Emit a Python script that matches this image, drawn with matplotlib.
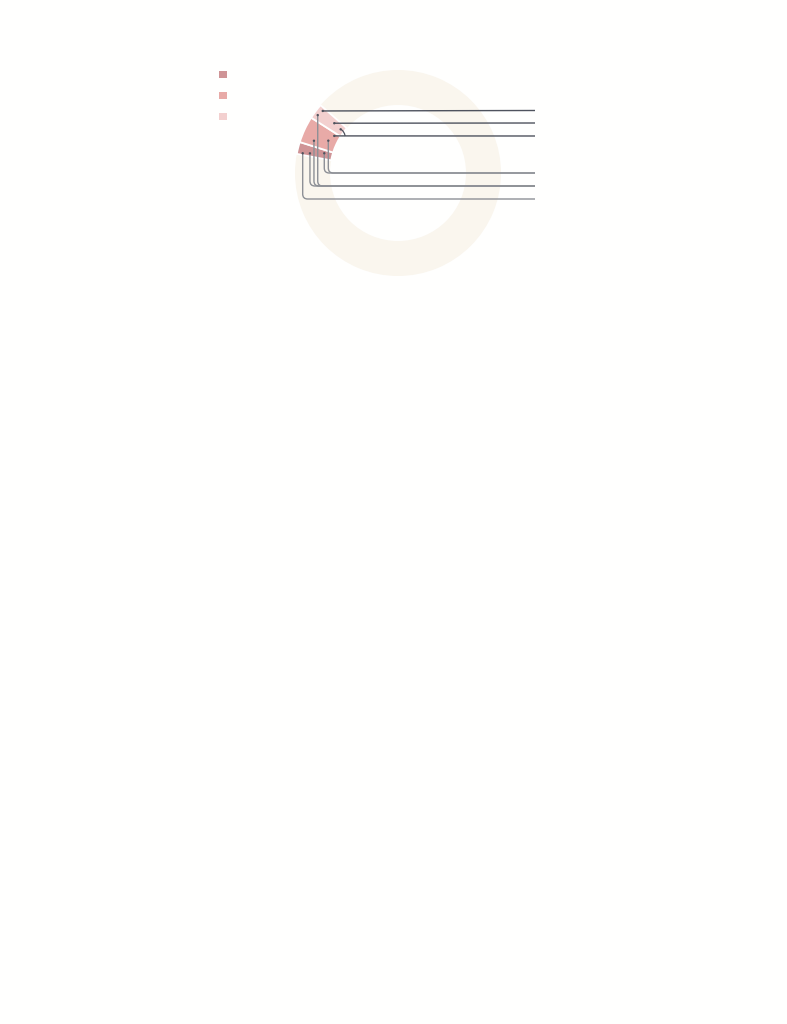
import matplotlib
matplotlib.use("Agg")
import matplotlib.pyplot as plt
from matplotlib.patches import Wedge, Rectangle, Circle
from matplotlib.path import Path
from matplotlib.patches import PathPatch
import numpy as np

# ---- data ----
series_names = ["A", "B", "C"]
series_colors = ["#cf9496", "#e8aaa7", "#f3d0cf"]
# angular extent of each segment (degrees, counter-clockwise from east)
seg_start = [162.5, 147.5, 138.8]
seg_end = [169.3, 162.5, 147.5]

# label anchors: (angle deg, radius fraction of outer radius), target row index
label_angle = [140.5, 142.0, 149.8, 144.2, 159.0, 155.1, 168.3, 167.4, 165.0]
label_rfrac = [0.947, 0.785, 0.716, 0.961, 0.874, 0.746, 0.945, 0.876, 0.741]
label_row = [0, 1, 2, 4, 4, 3, 5, 4, 3]
row_y = [110.5, 123.0, 136.0, 173.0, 186.0, 199.0]  # pixel rows of the leader lines
hook_angle, hook_rfrac = 142.7, 0.70  # the small curved connector into row 2

# ---- geometry / style ----
W, H = 787, 1024
cx, cy_pix = 398, 173
r_out, r_in = 103, 68
x_end = 535
ring_color = "#faf6ee"
dark_line = "#4f535e"
grey_line = "#8d9096"

fig = plt.figure(figsize=(W / 100, H / 100), dpi=100, facecolor="#fffffe")
ax = fig.add_axes([0, 0, 1, 1])
ax.set_xlim(0, W)
ax.set_ylim(0, H)
ax.set_aspect("equal")
ax.axis("off")

def Y(ypix):
    return H - ypix

cy = Y(cy_pix)

# background track
ax.add_patch(Wedge((cx, cy), r_out, 0, 360, width=r_out - r_in,
                   facecolor=ring_color, edgecolor="none", zorder=1))

# segments
for s, e, c in zip(seg_start, seg_end, series_colors):
    ax.add_patch(Wedge((cx, cy), r_out, s, e, width=r_out - r_in,
                       facecolor=c, edgecolor="white", linewidth=1.3, zorder=2))

# legend markers
for i, c in enumerate(series_colors):
    yp = 74.5 + i * 21
    ax.add_patch(Rectangle((219, Y(yp) - 3.8), 7.6, 7.6, facecolor=c,
                           edgecolor="none", zorder=3))

def polar(a, rf):
    r = rf * r_out
    return cx + r * np.cos(np.radians(a)), cy + r * np.sin(np.radians(a))

# leader lines
for a, rf, row in zip(label_angle, label_rfrac, label_row):
    px, py = polar(a, rf)
    ty = Y(row_y[row])
    if abs(py - ty) < 2.5:
        verts = [(px, py), (x_end, ty)]
        codes = [Path.MOVETO, Path.LINETO]
        col = dark_line
    else:
        rad = 5
        verts = [(px, py), (px, ty + rad), (px, ty), (px + rad, ty), (x_end, ty)]
        codes = [Path.MOVETO, Path.LINETO, Path.CURVE3, Path.CURVE3, Path.LINETO]
        col = dark_line if row < 3 else grey_line
    ax.add_patch(PathPatch(Path(verts, codes), facecolor="none", edgecolor=col,
                           linewidth=1.0, zorder=4, capstyle="butt"))
    ax.add_patch(Circle((px, py), 1.2, facecolor=dark_line, edgecolor="none", zorder=5))

# small hook into row 2
hx, hy = polar(hook_angle, hook_rfrac)
ty = Y(row_y[2])
verts = [(hx, hy), (hx + 3.5, hy - 1.5), (hx + 4.5, ty)]
ax.add_patch(PathPatch(Path(verts, [Path.MOVETO, Path.CURVE3, Path.CURVE3]),
                       facecolor="none", edgecolor=dark_line, linewidth=0.9, zorder=4))
ax.add_patch(Circle((hx, hy), 1.2, facecolor=dark_line, edgecolor="none", zorder=5))

fig.savefig("out.png", dpi=100, facecolor=fig.get_facecolor())
